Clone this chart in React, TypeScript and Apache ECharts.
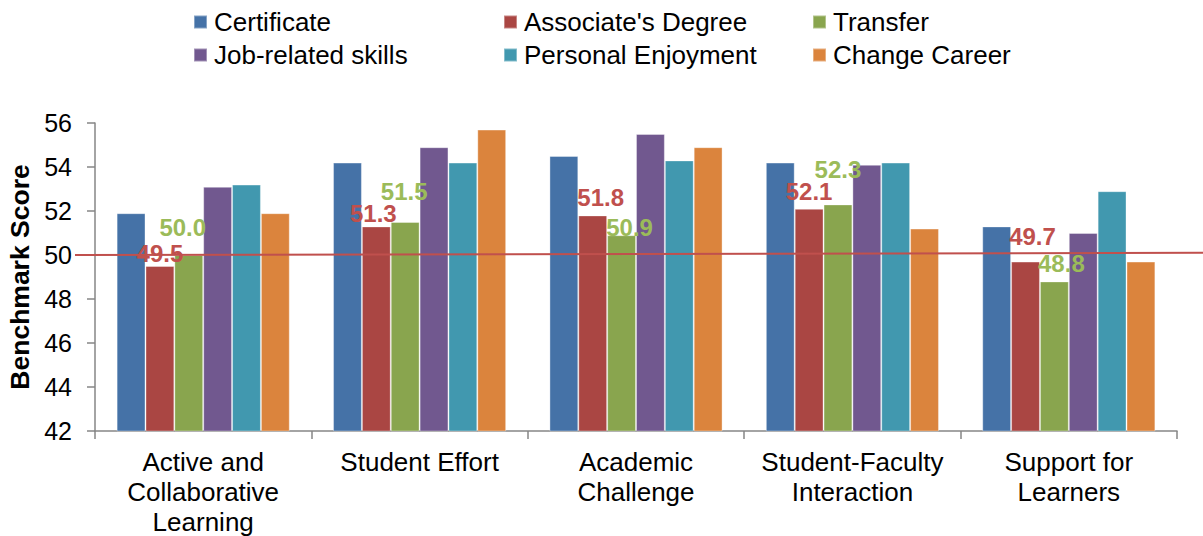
import React, { useEffect, useRef } from "react";
import * as echarts from "echarts";

const categories = [
  "Active and\nCollaborative\nLearning",
  "Student Effort",
  "Academic\nChallenge",
  "Student-Faculty\nInteraction",
  "Support for\nLearners",
];

const seriesNames = [
  "Certificate",
  "Associate's Degree",
  "Transfer",
  "Job-related skills",
  "Personal Enjoyment",
  "Change Career",
];

const certificate = [51.9, 54.2, 54.5, 54.2, 51.3];
const associatesDegree = [49.5, 51.3, 51.8, 52.1, 49.7];
const transfer = [50.0, 51.5, 50.9, 52.3, 48.8];
const jobRelated = [53.1, 54.9, 55.5, 54.1, 51.0];
const personalEnjoyment = [53.2, 54.2, 54.3, 54.2, 52.9];
const changeCareer = [51.9, 55.7, 54.9, 51.2, 49.7];

const benchmark = 50;
const benchmarkLineEnd = 50.1;
const yTicks = { min: 42, max: 56, interval: 2 };

// label placement nudges (style only), [dx, dy] in px per category
const associateLabelNudge = [[0, -4], [-3, -4], [8, -9], [0, -8], [7, -16]];
const transferLabelNudge = [[-6, -19], [-1, -22], [8, 1], [0, -26], [7, -9]];

const FONT = "'Liberation Sans', Arial, sans-serif";
const colors = ["#4572A7", "#AA4643", "#89A54E", "#71588F", "#4198AF", "#DB843D"];

export default function App() {
  const ref = useRef<HTMLDivElement>(null);

  useEffect(() => {
    if (!ref.current) return;
    const chart = echarts.init(ref.current, null, { renderer: "svg" });
    const values = [certificate, associatesDegree, transfer, jobRelated, personalEnjoyment, changeCareer];

    const labelStyle = (color: string) => ({
      show: true,
      position: "top",
      distance: 0,
      color,
      fontWeight: "bold",
      fontSize: 24,
      lineHeight: 18,
      fontFamily: FONT,
      formatter: (p: any) => Number(p.value).toFixed(1),
    });

    const buildData = (i: number) => {
      const vals = values[i];
      if (i === 1)
        return vals.map((v, k) => ({ value: v, label: { ...labelStyle("#C0504D"), offset: associateLabelNudge[k] } }));
      if (i === 2)
        return vals.map((v, k) => ({ value: v, label: { ...labelStyle("#9BBB59"), offset: transferLabelNudge[k] } }));
      return vals;
    };

    const series = seriesNames.map((name, i) => ({
      name,
      type: "bar",
      data: buildData(i),
      barGap: "0%",
      barCategoryGap: "20%",
      itemStyle: { color: colors[i], borderColor: "rgba(255,255,255,0.35)", borderWidth: 1 },
      ...(i === 0
        ? {
            markLine: {
              silent: true,
              symbol: ["none", "none"],
              label: { show: false },
              lineStyle: { color: "#C0504D", width: 2, type: "solid" },
              data: [[{ x: 75, yAxis: benchmark }, { x: "100%", yAxis: benchmarkLineEnd }]],
            },
          }
        : {}),
    }));

    const legendText = { fontSize: 26, color: "#000", fontFamily: FONT, lineHeight: 26, padding: [0, 0, 0, 2] };
    const legendCommon = {
      orient: "vertical",
      top: 9,
      padding: 0,
      itemWidth: 13,
      itemHeight: 13,
      itemGap: 7,
      icon: "rect",
      textStyle: legendText,
      selectedMode: false,
    };

    chart.setOption({
      animation: false,
      backgroundColor: "#fff",
      color: colors,
      grid: { left: 95, right: 26, top: 123, bottom: 105, containLabel: false, outerBoundsMode: "none" },
      legend: [
        { ...legendCommon, left: 193, data: [seriesNames[0], seriesNames[3]] },
        { ...legendCommon, left: 503, data: [seriesNames[1], seriesNames[4]] },
        { ...legendCommon, left: 812, data: [seriesNames[2], seriesNames[5]] },
      ],
      xAxis: {
        type: "category",
        data: categories,
        axisLine: { show: true, lineStyle: { color: "#868686", width: 1.5 } },
        axisTick: { show: true, length: 8, lineStyle: { color: "#868686", width: 1.5 } },
        axisLabel: { color: "#000", fontSize: 26, fontFamily: FONT, lineHeight: 30, margin: 16, interval: 0 },
      },
      yAxis: {
        type: "value",
        min: yTicks.min,
        max: yTicks.max,
        interval: yTicks.interval,
        name: "Benchmark Score",
        nameLocation: "middle",
        nameGap: 62,
        nameTextStyle: { color: "#000", fontSize: 26.5, fontWeight: "bold", fontFamily: FONT },
        axisLine: { show: true, lineStyle: { color: "#868686", width: 1.5 } },
        axisTick: { show: true, length: 8, lineStyle: { color: "#868686", width: 1.5 } },
        axisLabel: { color: "#000", fontSize: 25, fontFamily: FONT, margin: 23 },
        splitLine: { show: false },
      },
      series,
    });

    return () => chart.dispose();
  }, []);

  return (
    <div
      ref={ref}
      style={{ position: "absolute", left: 0, top: 0, width: 1203, height: 536 }}
    />
  );
}
